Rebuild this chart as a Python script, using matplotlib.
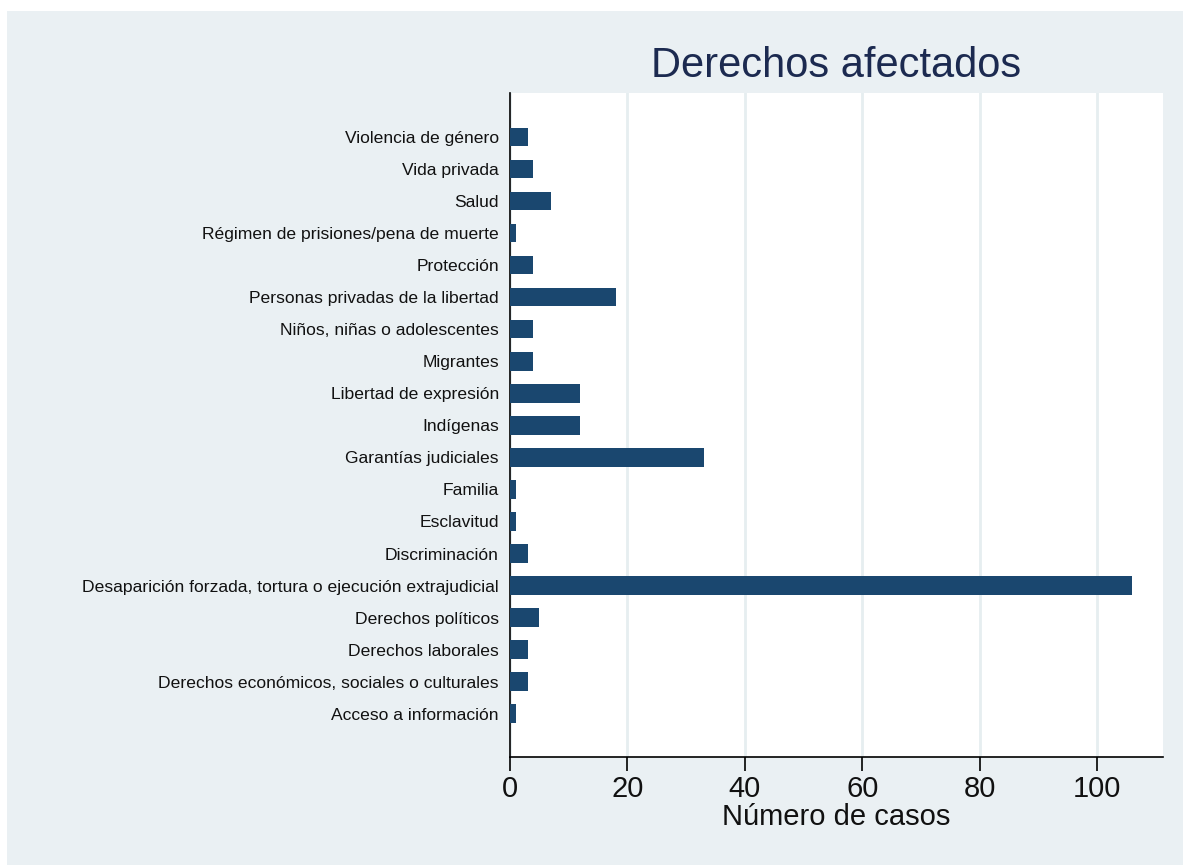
import matplotlib
matplotlib.use("Agg")
import numpy as np
from matplotlib import pyplot as plt
from matplotlib.patches import Rectangle

plt.rcParams["font.family"] = ["Liberation Sans", "DejaVu Sans"]

# categories listed bottom to top
categories = [
    "Acceso a información",
    "Derechos económicos, sociales o culturales",
    "Derechos laborales",
    "Derechos políticos",
    "Desaparición forzada, tortura o ejecución extrajudicial",
    "Discriminación",
    "Esclavitud",
    "Familia",
    "Garantías judiciales",
    "Indígenas",
    "Libertad de expresión",
    "Migrantes",
    "Niños, niñas o adolescentes",
    "Personas privadas de la libertad",
    "Protección",
    "Régimen de prisiones/pena de muerte",
    "Salud",
    "Vida privada",
    "Violencia de género",
]
casos = [1, 3, 3, 5, 106, 3, 1, 1, 33, 12, 12, 4, 4, 18, 4, 1, 7, 4, 3]
x_ticks = [0, 20, 40, 60, 80, 100]

bar_color = "#1a476f"
bg_color = "#eaf0f3"
grid_color = "#e6eef0"
title_color = "#1c2a50"

fig = plt.figure(figsize=(11.83, 8.65), dpi=100)
fig.patch.set_facecolor("white")
# stata-like outer background, leaving a thin white margin top/left
fig.patches.append(Rectangle((7 / 1183, 0), 1 - 7 / 1183, 1 - 11 / 865,
                             transform=fig.transFigure, facecolor=bg_color,
                             edgecolor="none", zorder=-10))

ax = fig.add_axes([510 / 1183, 1 - 757 / 865, 653 / 1183, 664 / 865])
ax.set_facecolor("white")

y = np.arange(len(categories))
ax.barh(y, casos, height=0.58, color=bar_color, zorder=3)

ax.set_yticks(y)
ax.set_yticklabels(categories, fontsize=12.6, color="#111111")
ax.tick_params(axis="y", length=0, pad=8)
ax.set_ylim(-1.35, len(categories) - 1 + 1.37)

ax.set_xlim(0, 111.2)
ax.set_xticks(x_ticks)
ax.tick_params(axis="x", labelsize=21, length=10, width=1.2, pad=3,
               labelcolor="#111111")
ax.set_xlabel("Número de casos", fontsize=21, labelpad=0, color="#111111")

ax.grid(axis="x", color=grid_color, linewidth=2, zorder=0)
ax.set_axisbelow(True)

for side in ["top", "right"]:
    ax.spines[side].set_visible(False)
for side in ["left", "bottom"]:
    ax.spines[side].set_color("black")
    ax.spines[side].set_linewidth(1.2)

fig.text((510 + 1163) / 2 / 1183, 1 - 66 / 865, "Derechos afectados",
         ha="center", va="center", fontsize=30, color=title_color)

fig.savefig("out.png", dpi=100, facecolor=fig.get_facecolor())
